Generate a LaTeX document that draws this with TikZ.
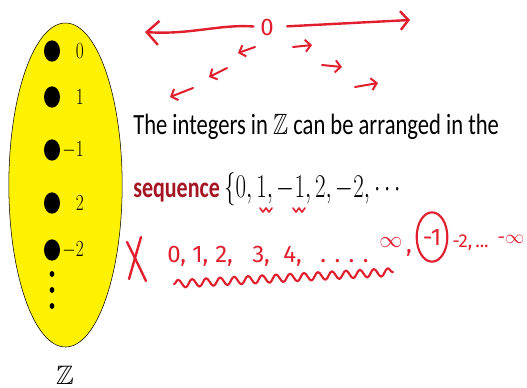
\documentclass[tikz,border=0pt]{standalone}
\usepackage[no-math]{fontspec}
\usepackage{amssymb}
\usepackage{graphicx}
\setmainfont{Carlito}
\newfontfamily\handfont{Fira Sans}
\usetikzlibrary{shapes.geometric,arrows.meta,decorations.pathmorphing}
\definecolor{inkred}{RGB}{225,30,45}
\definecolor{seqred}{RGB}{165,20,35}

\begin{document}
\begin{tikzpicture}[x=0.75pt, y=-0.75pt,
    dot/.style={ellipse, fill=black, inner sep=0pt, minimum width=12pt, minimum height=16pt},
    elbl/.style={anchor=east, inner sep=0pt, font=\fontsize{19}{19}\selectfont},
    txt/.style={anchor=base west, inner sep=0pt, font=\fontsize{22}{22}\selectfont},
    ink/.style={draw=inkred, line width=1.8pt, line cap=round, line join=round},
    hand/.style={text=inkred, inner sep=0pt, font=\handfont\fontsize{18}{18}\selectfont},
    small hand/.style={hand, font=\handfont\fontsize{14}{14}\selectfont},
    barb/.style={-{Straight Barb[length=4pt,width=9pt]}}
]
\useasboundingbox (0,0) rectangle (527,387);

% The set Z
\node[ellipse, draw, fill=yellow, minimum width=85pt, minimum height=243pt, inner sep=0pt] (zset) at (65.5,185) {};
\foreach \val/\y [count=\i] in {0/51, 1/97, -1/150, 2/203, -2/250} {
  \node[dot] (d\i) at (52,\y) {};
  \node[elbl] (l\i) at (84,\y) {\scalebox{0.75}[1]{$\val$}};
}
\foreach \y in {274,290,306}
  \fill (52,\y) circle [x radius=1.8pt, y radius=2.2pt];
\node[font=\fontsize{20}{20}\selectfont] (zname) at (65,375) {$\mathbb{Z}$};

% Printed text
\node[txt] (line1) at (133,134) {\scalebox{0.77}[1]{The integers in $\mathbb{Z}$ can be arranged in the}};
\node[txt] (seq) at (133,197) {\scalebox{0.75}[1]{\textcolor{seqred}{\textbf{sequence}}}};
\node[txt, font=\fontsize{24}{24}\selectfont] (seqmath) at (224,197) {\scalebox{0.69}[1]{$\{0, 1, -1, 2, -2, \cdots$}};

% Handwriting: number line
\node[hand] (zero) at (267,27) {0};
\coordinate (lend) at (145,32);
\coordinate (rend) at (410,20);
\draw[ink, shorten <=5pt, -{Straight Barb[length=9pt,width=18pt]}] (zero.west) .. controls (220,24) and (190,35) .. (lend);
\draw[ink, shorten <=10pt, -{Straight Barb[length=6pt,width=14pt]}] (zero.east) -- (rend);
\foreach \xa/\ya/\xb/\yb in {255/47/238/53, 227/68/209/77, 193/88/170/97}
  \draw[ink, line width=1.5pt, barb] (\xa,\ya) -- (\xb,\yb);
\foreach \xa/\ya/\xb/\yb in {293/47/312/45, 322/65/342/67, 355/87/378/83}
  \draw[ink, line width=1.5pt, barb] (\xa,\ya) -- (\xb,\yb);

% Handwriting: marks under the sequence
\draw[ink, line width=1.2pt] (260,208) -- (263,212) -- (266,208) -- (269,212) -- (272,208);
\draw[ink, line width=1.2pt] (293,208) -- (296,212) -- (299,208) -- (302,212) -- (305,208);

% Handwriting: wrong ordering
\draw[ink] (127,242) .. controls (135,258) .. (146,281);
\draw[ink] (141,237) .. controls (135,258) .. (129,279);
\foreach \d/\x in {0/167, 1/192, 2/215, 3/252, 4/283}
  \node[hand, anchor=base west] (n\d) at (\x,262) {\d,};
\node[hand, anchor=base west] (dots1) at (320,262) {. . . .};
\node[hand] (inf) at (391,243) {$\infty$};
\node[hand, anchor=base] (comma) at (409,252) {,};
\node[hand, ellipse, draw=inkred, line width=1.6pt, minimum width=23pt, minimum height=37pt] (neg1) at (432,237) {-1};
\node[small hand, anchor=base west] (neg2) at (452,247) {-2,};
\node[small hand, anchor=base west] (dots2) at (475,247) {...};
\node[small hand] (neginf) at (511,239) {-$\infty$};
\draw[ink, line width=1.6pt, decorate, decoration={snake, amplitude=3pt, segment length=10.5pt}] (174,284) -- (393,272);
\end{tikzpicture}
\end{document}
